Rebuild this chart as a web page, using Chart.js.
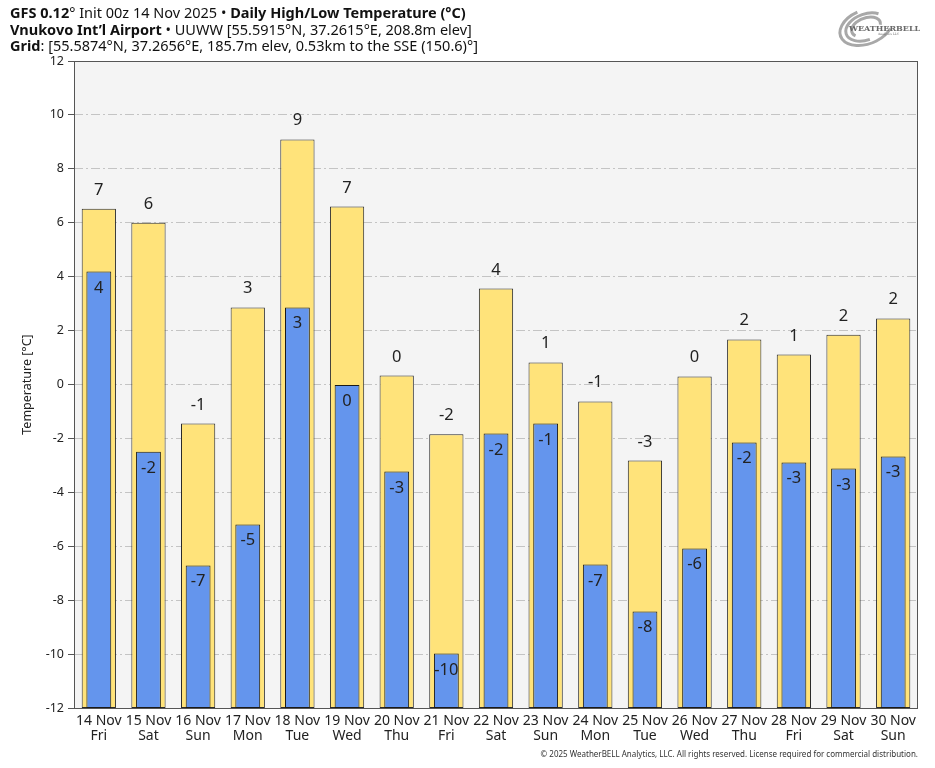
<!DOCTYPE html>
<html>
<head>
<meta charset="utf-8">
<script src="https://cdn.jsdelivr.net/npm/chart.js@4.4.1/dist/chart.umd.min.js"></script>
<style>
  body { margin: 0; background: #fff; }
  #wrap { position: relative; width: 935px; height: 768px; }
  #hdr { position: absolute; left: 10px; top: 4px; font-family: "Noto Sans", sans-serif; font-size: 14.5px; line-height: 16.5px; color: #111; white-space: nowrap; }
  #hdr b { font-weight: 700; }
</style>
</head>
<body>
<div id="wrap">
  <canvas id="chart" width="935" height="768"></canvas>
  <div id="hdr">
    <div><b>GFS 0.12</b>&deg; Init 00z 14 Nov 2025 &bull; <b>Daily High/Low Temperature (&deg;C)</b></div>
    <div><b>Vnukovo Int&rsquo;l Airport</b> &bull; UUWW [55.5915&deg;N, 37.2615&deg;E, 208.8m elev]</div>
    <div><b>Grid</b>: [55.5874&deg;N, 37.2656&deg;E, 185.7m elev, 0.53km to the SSE (150.6)&deg;]</div>
  </div>
</div>
<script>
// days on the x axis
var dates = ["14 Nov","15 Nov","16 Nov","17 Nov","18 Nov","19 Nov","20 Nov","21 Nov","22 Nov","23 Nov","24 Nov","25 Nov","26 Nov","27 Nov","28 Nov","29 Nov","30 Nov"];
var weekdays = ["Fri","Sat","Sun","Mon","Tue","Wed","Thu","Fri","Sat","Sun","Mon","Tue","Wed","Thu","Fri","Sat","Sun"];
// daily high / low in C
var highs = [6.52, 6.0, -1.45, 2.86, 9.09, 6.6, 0.33, -1.85, 3.56, 0.82, -0.63, -2.82, 0.3, 1.67, 1.11, 1.85, 2.45];
var lows  = [4.19, -2.49, -6.71, -5.19, 2.86, 0.0, -3.23, -9.98, -1.82, -1.45, -6.68, -8.42, -6.08, -2.15, -2.89, -3.12, -2.67];
var yMin = -12, yMax = 12;

var labels = dates.map(function(d, i){ return [d, weekdays[i]]; });

// value labels: highs above the yellow bar, lows inside the blue bar
var valueLabels = {
  id: 'valueLabels',
  afterDatasetsDraw: function(chart) {
    var ctx = chart.ctx, ys = chart.scales.y;
    ctx.save();
    ctx.font = '16.5px "Noto Sans", sans-serif';
    ctx.fillStyle = '#222';
    ctx.textAlign = 'center';
    ctx.textBaseline = 'alphabetic';
    chart.getDatasetMeta(0).data.forEach(function(bar, i){
      ctx.fillText(Math.round(highs[i]), bar.x, ys.getPixelForValue(highs[i]) - 14);
    });
    chart.getDatasetMeta(1).data.forEach(function(bar, i){
      ctx.fillText(Math.round(lows[i]), bar.x, ys.getPixelForValue(lows[i]) + 21);
    });
    ctx.restore();
  }
};

var frame = {
  id: 'frame',
  beforeDraw: function(chart) {
    var a = chart.chartArea, ctx = chart.ctx;
    ctx.save();
    ctx.fillStyle = '#f4f4f4';
    ctx.fillRect(a.left, a.top, a.right - a.left, a.bottom - a.top);
    ctx.restore();
  },
  afterDraw: function(chart) {
    var a = chart.chartArea, ctx = chart.ctx;
    ctx.save();
    ctx.strokeStyle = '#555';
    ctx.lineWidth = 1;
    ctx.strokeRect(a.left + 0.5, a.top + 0.5, a.right - a.left - 1, a.bottom - a.top);
    // y axis title
    ctx.fillStyle = '#222';
    ctx.font = '12.5px "Noto Sans", sans-serif';
    ctx.textAlign = 'center';
    ctx.textBaseline = 'middle';
    ctx.translate(27, (a.top + a.bottom) / 2);
    ctx.rotate(-Math.PI / 2);
    ctx.fillText('Temperature [\u00b0C]', 0, 0);
    ctx.setTransform(1, 0, 0, 1, 0, 0);
    // footer
    ctx.font = '8px "Noto Sans", sans-serif';
    ctx.fillStyle = '#333';
    ctx.textAlign = 'right';
    ctx.fillText('\u00a9 2025 WeatherBELL Analytics, LLC. All rights reserved. License required for commercial distribution.', 918, 755);
    // logo
    ctx.strokeStyle = '#a8a8a8';
    ctx.lineWidth = 3;
    for (var k = 0; k < 3; k++) {
      ctx.beginPath();
      ctx.ellipse(866, 27, 27 - k * 6, 17 - k * 4, -0.35, 0.6 + k, 4.6 + k);
      ctx.stroke();
    }
    ctx.fillStyle = '#6a6a6a';
    ctx.font = 'bold 8px "DejaVu Serif", serif';
    ctx.textAlign = 'left';
    ctx.fillText('WEATHERBELL', 849, 29);
    ctx.font = '3px "DejaVu Serif", serif';
    ctx.fillText('Analytics LLC', 878, 34);
    ctx.restore();
  }
};

new Chart(document.getElementById('chart'), {
  type: 'bar',
  data: {
    labels: labels,
    datasets: [
      {
        label: 'High',
        data: highs.map(function(v){ return [yMin, v]; }),
        backgroundColor: '#ffe37a',
        borderColor: '#2a2a2a',
        borderWidth: 1,
        borderSkipped: false,
        barPercentage: 0.69,
        categoryPercentage: 1,
        grouped: false,
        order: 2
      },
      {
        label: 'Low',
        data: lows.map(function(v){ return [yMin, v]; }),
        backgroundColor: '#6495ed',
        borderColor: '#1a1a1a',
        borderWidth: 1,
        borderSkipped: false,
        barPercentage: 0.5,
        categoryPercentage: 1,
        grouped: false,
        order: 1
      }
    ]
  },
  options: {
    responsive: false,
    animation: false,
    layout: { padding: { top: 61, right: 17, left: 0, bottom: 0 } },
    plugins: { legend: { display: false }, tooltip: { enabled: false } },
    scales: {
      x: {
        grid: { display: false },
        border: { display: false },
        ticks: { color: '#222', font: { family: 'Noto Sans', size: 14, lineHeight: 1.1 }, maxRotation: 0, autoSkip: false, padding: -3 },
        afterFit: function(s){ s.height = 60; }
      },
      y: {
        min: yMin, max: yMax,
        ticks: { stepSize: 2, color: '#222', font: { family: 'Noto Sans', size: 12.5 }, padding: 4 },
        grid: {
          color: function(c){ return (c.tick.value === yMin || c.tick.value === yMax) ? 'rgba(0,0,0,0)' : '#c4c4c4'; },
          tickColor: '#555', tickLength: 6, drawOnChartArea: true
        },
        border: { display: false, dash: [9, 3, 2, 3] },
        afterFit: function(s){ s.width = 74; }
      }
    }
  },
  plugins: [frame, valueLabels]
});
</script>
</body>
</html>
